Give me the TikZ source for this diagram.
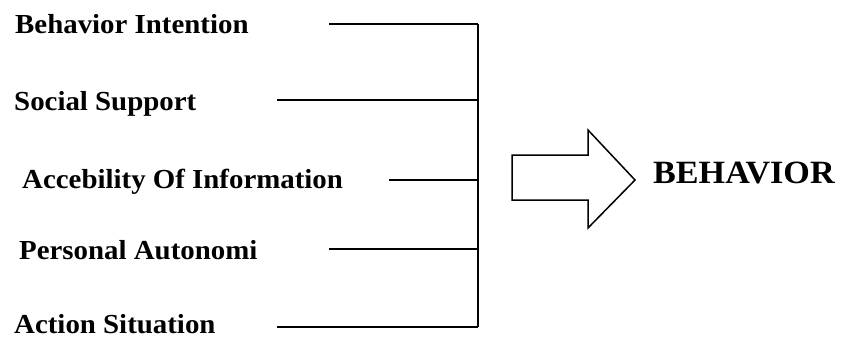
\documentclass[tikz,border=0pt]{standalone}
\usepackage{fontspec}
\setmainfont{Liberation Serif}[FakeStretch=1.05]
\usepackage{tikz}
\usetikzlibrary{positioning}
\tikzset{
  factor/.style={font=\bfseries\fontsize{27.5}{31}\selectfont, anchor=base west, inner sep=0pt},
  result/.style={font=\bfseries\fontsize{32.5}{36}\selectfont, anchor=base west, inner sep=0pt},
  link/.style={line width=1.5pt}
}
\begin{document}
\begin{tikzpicture}[x=1pt,y=1pt]
\useasboundingbox (0,0) rectangle (842,338);
% Factors
\node[factor] (intent) at (15,304) {Behavior Intention};
\node[factor] (support) at (14,228) {Social Support};
\node[factor] (access) at (22,150) {Accebility Of Information};
\node[factor] (autonomy) at (19,79) {Personal Autonomi};
\node[factor] (situation) at (14,5) {Action Situation};
% Line ends
\coordinate (intentL) at (329,314);
\coordinate (supportL) at (277,238);
\coordinate (accessL) at (389,158);
\coordinate (autonomyL) at (329,89);
\coordinate (situationL) at (277,11);
\foreach \f in {intent,support,access,autonomy,situation}
  \draw[link] (\f L) -- (478,0 |- \f L) coordinate (\f R);
% Bus
\draw[link] (intentR) -- (situationR);
% Block arrow
\draw[link] (512,183) -- (588,183) -- (588,208) -- (635,158) coordinate (tip)
  -- (588,110) -- (588,138) -- (512,138) -- cycle;
\node[result] (behavior) at (653,155) {BEHAVIOR};
\end{tikzpicture}
\end{document}
